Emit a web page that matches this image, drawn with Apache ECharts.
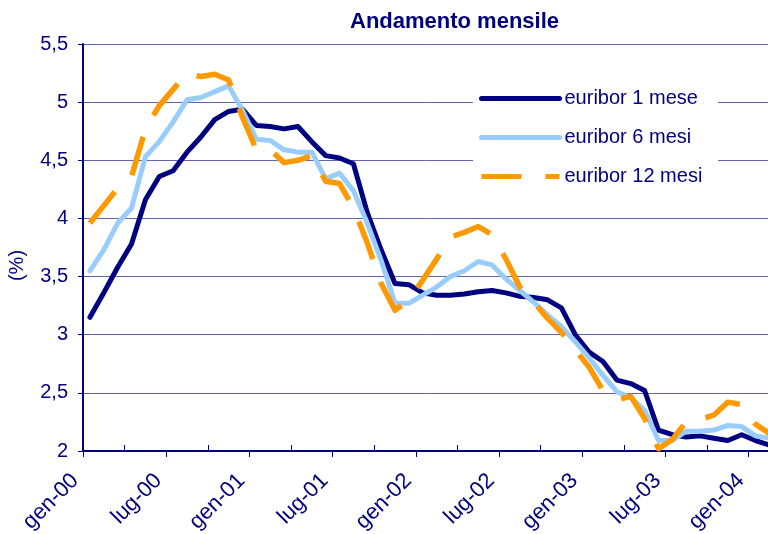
<!DOCTYPE html>
<html>
<head>
<meta charset="utf-8">
<script src="https://cdn.jsdelivr.net/npm/echarts@6/dist/echarts.min.js"></script>
<style>
html, body { margin: 0; padding: 0; background: #fff; }
#main { width: 768px; height: 534px; }
</style>
</head>
<body>
<div id="main"></div>
<script>
// mesi da gen-00 a feb-04
var mesi = [
  'gen-00', 'feb-00', 'mar-00', 'apr-00', 'mag-00', 'giu-00', 'lug-00', 'ago-00', 'set-00', 'ott-00', 'nov-00', 'dic-00',
  'gen-01', 'feb-01', 'mar-01', 'apr-01', 'mag-01', 'giu-01', 'lug-01', 'ago-01', 'set-01', 'ott-01', 'nov-01', 'dic-01',
  'gen-02', 'feb-02', 'mar-02', 'apr-02', 'mag-02', 'giu-02', 'lug-02', 'ago-02', 'set-02', 'ott-02', 'nov-02', 'dic-02',
  'gen-03', 'feb-03', 'mar-03', 'apr-03', 'mag-03', 'giu-03', 'lug-03', 'ago-03', 'set-03', 'ott-03', 'nov-03', 'dic-03',
  'gen-04', 'feb-04'
];

var euribor1m = [
  3.15, 3.36, 3.58, 3.78, 4.16, 4.36, 4.41, 4.57, 4.70, 4.85, 4.92, 4.94,
  4.80, 4.79, 4.77, 4.79, 4.66, 4.54, 4.52, 4.47, 4.05, 3.73, 3.44, 3.43,
  3.36, 3.34, 3.34, 3.35, 3.37, 3.38, 3.36, 3.33, 3.32, 3.30, 3.23, 3.00,
  2.85, 2.77, 2.61, 2.58, 2.52, 2.18, 2.14, 2.12, 2.13, 2.11, 2.09, 2.14,
  2.09, 2.05
];

var euribor6m = [
  3.55, 3.73, 3.96, 4.09, 4.53, 4.66, 4.83, 5.02, 5.04, 5.09, 5.14, 4.93,
  4.68, 4.67, 4.59, 4.57, 4.57, 4.34, 4.39, 4.24, 3.96, 3.64, 3.27, 3.27,
  3.34, 3.41, 3.50, 3.55, 3.63, 3.60, 3.48, 3.38, 3.28, 3.17, 3.07, 2.94,
  2.80, 2.65, 2.51, 2.46, 2.35, 2.09, 2.09, 2.17, 2.17, 2.18, 2.22, 2.21,
  2.13, 2.11
];

var euribor12m = [
  3.96, 4.11, 4.26, 4.36, 4.77, 4.97, 5.11, 5.25, 5.22, 5.24, 5.19, 4.87,
  4.59, 4.59, 4.48, 4.50, 4.54, 4.32, 4.30, 4.09, 3.79, 3.44, 3.21, 3.30,
  3.47, 3.65, 3.84, 3.88, 3.93, 3.86, 3.65, 3.41, 3.28, 3.14, 3.02, 2.87,
  2.72, 2.52, 2.44, 2.47, 2.28, 2.02, 2.10, 2.25, 2.27, 2.31, 2.42, 2.40,
  2.23, 2.15
];

// ogni mese sta al centro della sua colonna (come in Excel)
function punti(valori) {
  return valori.map(function (v, i) { return [i + 0.5, v]; });
}

var myChart = echarts.init(document.getElementById('main'));
var navy = '#000080';
var font = '"Liberation Sans", Arial, sans-serif';

var option = {
  animation: false,
  backgroundColor: '#fff',
  title: {
    text: 'Andamento mensile',
    left: 345,
    top: 6,
    textStyle: { fontFamily: font, fontSize: 22, fontWeight: 'bold', color: navy }
  },
  // riquadro bianco dietro la legenda
  graphic: [{
    type: 'rect',
    left: 473,
    top: 80,
    z: 3,
    shape: { width: 245, height: 118 },
    style: { fill: '#fff' }
  }],
  legend: {
    orient: 'vertical',
    left: 473,
    top: 79,
    padding: [8, 0, 8, 6],
    backgroundColor: 'transparent',
    itemWidth: 78,
    itemHeight: 14,
    itemGap: 16,
    itemStyle: { opacity: 0 },
    lineStyle: { width: 5 },
    textStyle: { fontFamily: font, fontSize: 20, color: navy, lineHeight: 23 },
    data: ['euribor 1 mese', 'euribor 6 mesi', 'euribor 12 mesi']
  },
  grid: { left: 83, right: 0, top: 44, bottom: 83, outerBoundsMode: 'none' },
  xAxis: {
    type: 'value',
    min: 0,
    max: 49.4,
    interval: 6,
    axisLine: { lineStyle: { color: navy, width: 2 } },
    axisTick: { length: 6, lineStyle: { color: navy, width: 1 } },
    minorTick: { show: true, splitNumber: 2, length: -6, lineStyle: { color: navy, width: 1 } },
    splitLine: { show: false },
    axisLabel: {
      rotate: 45,
      margin: 34,
      verticalAlign: 'bottom',
      fontFamily: font,
      fontSize: 22,
      color: navy,
      formatter: function (v) { return v % 6 === 0 ? mesi[v] : ''; }
    }
  },
  yAxis: {
    type: 'value',
    min: 2,
    max: 5.5,
    interval: 0.5,
    name: '(%)',
    nameLocation: 'middle',
    nameRotate: 90,
    nameGap: 56,
    nameTextStyle: { fontFamily: font, fontSize: 20, color: navy, padding: [0, 36, 0, 0] },
    axisLine: { show: true, lineStyle: { color: navy, width: 2 } },
    axisTick: { show: true, length: 5, lineStyle: { color: navy, width: 1 } },
    splitLine: { lineStyle: { color: '#6464ae', width: 1 } },
    axisLabel: {
      margin: 15,
      fontFamily: font,
      fontSize: 20,
      color: navy,
      formatter: function (v) { return String(v).replace('.', ','); }
    }
  },
  series: [
    {
      name: 'euribor 1 mese',
      type: 'line',
      symbol: 'none',
      data: punti(euribor1m),
      lineStyle: { color: navy, width: 5, cap: 'round', join: 'round' },
      itemStyle: { color: navy }
    },
    {
      name: 'euribor 6 mesi',
      type: 'line',
      symbol: 'none',
      data: punti(euribor6m),
      lineStyle: { color: '#99ccff', width: 5, cap: 'round', join: 'round' },
      itemStyle: { color: '#99ccff' }
    },
    {
      name: 'euribor 12 mesi',
      type: 'line',
      symbol: 'none',
      data: punti(euribor12m),
      lineStyle: { color: '#ff9900', width: 5.5, type: [40, 24], cap: 'butt', join: 'round' },
      itemStyle: { color: '#ff9900' }
    }
  ]
};

myChart.setOption(option);
</script>
</body>
</html>
